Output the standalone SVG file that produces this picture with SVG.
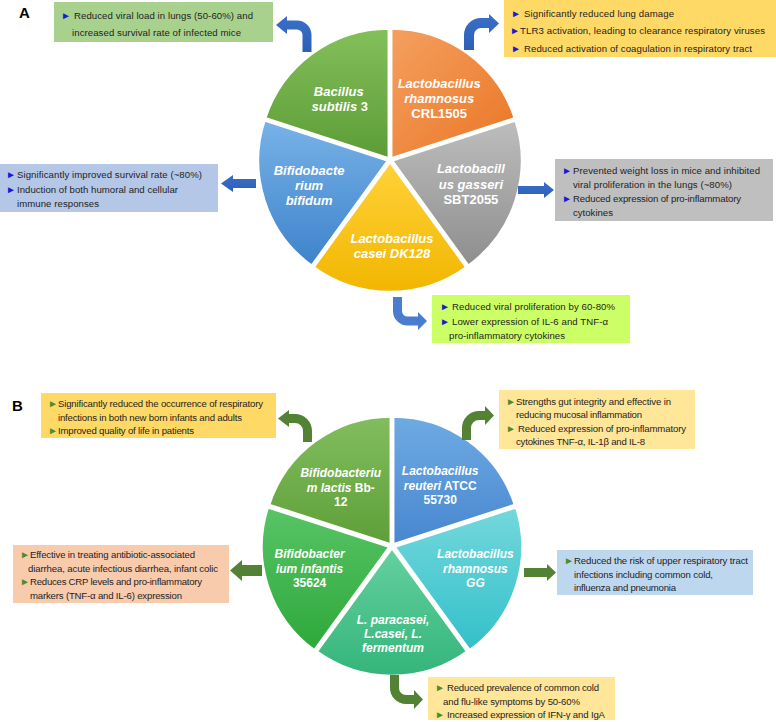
<svg xmlns="http://www.w3.org/2000/svg" width="776" height="722" viewBox="0 0 776 722">
<defs>
<style>
.t{font-family:"Liberation Sans",Arial,sans-serif;font-size:9.6px;fill:#1e1e1e}
.ba{font-family:"Liberation Sans",Arial,sans-serif;fill:#1a1ad6;font-size:10px}
.bb{font-family:"Liberation Sans",Arial,sans-serif;fill:#4f8a2c;font-size:10px}
.lab{font-family:"Liberation Sans",Arial,sans-serif;font-weight:bold;fill:#fff;text-anchor:middle;font-size:13px}
.lb{font-size:12px}
.i{font-style:italic}
.pl{font-family:"Liberation Sans",Arial,sans-serif;font-weight:bold;font-size:15px;fill:#000}
.sl{stroke:#fff;stroke-width:2.5;stroke-linejoin:round}
.arA{fill:url(#gBlueArr)}
.arB{fill:#548235}
</style>
<linearGradient id="gBlueArr" x1="0" y1="0" x2="0" y2="1"><stop offset="0" stop-color="#3b6fc8"/><stop offset="1" stop-color="#2d5fb5"/></linearGradient>
<linearGradient id="gA1" x1="0" y1="0" x2="0" y2="1"><stop offset="0" stop-color="#84bf5a"/><stop offset="1" stop-color="#5c9c36"/></linearGradient>
<linearGradient id="gA2" x1="0" y1="0" x2="1" y2="1"><stop offset="0" stop-color="#f4a060"/><stop offset="1" stop-color="#ea7524"/></linearGradient>
<linearGradient id="gA3" x1="0" y1="0" x2="0" y2="1"><stop offset="0" stop-color="#bdbdbd"/><stop offset="1" stop-color="#8e8e8e"/></linearGradient>
<linearGradient id="gA4" x1="0" y1="0" x2="0" y2="1"><stop offset="0" stop-color="#ffd23a"/><stop offset="1" stop-color="#f1b600"/></linearGradient>
<linearGradient id="gA5" x1="0" y1="0" x2="0" y2="1"><stop offset="0" stop-color="#78b2e8"/><stop offset="1" stop-color="#3e83cb"/></linearGradient>
<linearGradient id="gB1" x1="0" y1="0" x2="0" y2="1"><stop offset="0" stop-color="#82bd5e"/><stop offset="1" stop-color="#5e9f38"/></linearGradient>
<linearGradient id="gB2" x1="0" y1="0" x2="0" y2="1"><stop offset="0" stop-color="#6eabe3"/><stop offset="1" stop-color="#4886cf"/></linearGradient>
<linearGradient id="gB3" x1="0" y1="0" x2="0" y2="1"><stop offset="0" stop-color="#74d8dc"/><stop offset="1" stop-color="#33c0ca"/></linearGradient>
<linearGradient id="gB4" x1="0" y1="0" x2="0" y2="1"><stop offset="0" stop-color="#64d0a0"/><stop offset="1" stop-color="#34b57a"/></linearGradient>
<linearGradient id="gB5" x1="0" y1="0" x2="0" y2="1"><stop offset="0" stop-color="#58c466"/><stop offset="1" stop-color="#2ea83a"/></linearGradient>
</defs>
<rect width="776" height="722" fill="#fff"/>

<text class="pl" x="19" y="18">A</text>
<text class="pl" x="12" y="411">B</text>

<!-- Panel A pie -->
<g id="pieA">
<g id="a-bacillus" transform="translate(-1.2,-1.6)">
<path class="sl" fill="url(#gA1)" d="M390,160 L266.36,119.83 A130,130 0 0 1 390,30 Z"/>
<text class="lab i" x="340" y="98">Bacillus</text>
<text class="lab" x="341" y="113"><tspan class="i">subtilis</tspan> 3</text>
</g>
<g id="a-rhamnosus" transform="translate(1.2,-1.6)">
<path class="sl" fill="url(#gA2)" d="M390,160 L390,30 A130,130 0 0 1 513.64,119.83 Z"/>
<text class="lab i" x="438" y="90">Lactobacillus</text>
<text class="lab i" x="438" y="105">rhamnosus</text>
<text class="lab" x="438" y="120">CRL1505</text>
</g>
<g id="a-gasseri" transform="translate(1.9,0.6)">
<path class="sl" fill="url(#gA3)" d="M390,160 L513.64,119.83 A130,130 0 0 1 466.41,265.17 Z"/>
<text class="lab i" x="469" y="172">Lactobacill</text>
<text class="lab i" x="469" y="188">us gasseri</text>
<text class="lab" x="469" y="203">SBT2055</text>
</g>
<g id="a-casei" transform="translate(0,2)">
<path class="sl" fill="url(#gA4)" d="M390,160 L466.41,265.17 A130,130 0 0 1 313.59,265.17 Z"/>
<text class="lab i" x="392" y="241">Lactobacillus</text>
<text class="lab i" x="392" y="256">casei DK128</text>
</g>
<g id="a-bifidum" transform="translate(-1.9,0.6)">
<path class="sl" fill="url(#gA5)" d="M390,160 L313.59,265.17 A130,130 0 0 1 266.36,119.83 Z"/>
<text class="lab i" x="311" y="174">Bifidobacte</text>
<text class="lab i" x="311" y="189">rium</text>
<text class="lab i" x="311" y="204">bifidum</text>
</g>
</g>

<!-- Panel A boxes -->
<g id="a-box1">
<rect x="54" y="2" width="219" height="40" fill="#a9d18e"/>
<text class="ba" x="61" y="19">►</text>
<text class="t" x="74" y="19" textLength="179" lengthAdjust="spacing">Reduced viral load in lungs (50-60%) and</text>
<text class="t" x="72" y="36" textLength="169" lengthAdjust="spacing">increased survival rate of infected mice</text>
</g>
<g id="a-box2">
<rect x="504" y="0" width="272" height="57" fill="#ffd966"/>
<text class="ba" x="511" y="17">►</text>
<text class="t" x="524" y="17" textLength="150" lengthAdjust="spacing">Significantly reduced lung damage</text>
<text class="ba" x="510" y="34">►</text>
<text class="t" x="520" y="34" textLength="245" lengthAdjust="spacing">TLR3 activation, leading to clearance respiratory viruses</text>
<text class="ba" x="511" y="52">►</text>
<text class="t" x="524" y="52" textLength="228" lengthAdjust="spacing">Reduced activation of coagulation in respiratory tract</text>
</g>
<g id="a-box3">
<rect x="0" y="164" width="218" height="48" fill="#b4c7e7"/>
<text class="ba" x="6" y="178">►</text>
<text class="t" x="17" y="178" textLength="185" lengthAdjust="spacing">Significantly improved survival rate (~80%)</text>
<text class="ba" x="6" y="192.5">►</text>
<text class="t" x="17" y="192.5" textLength="161" lengthAdjust="spacing">Induction of both humoral and cellular</text>
<text class="t" x="17" y="207" textLength="82" lengthAdjust="spacing">immune responses</text>
</g>
<g id="a-box4">
<rect x="555" y="159" width="218" height="62" fill="#bfbfbf"/>
<text class="ba" x="562" y="174">►</text>
<text class="t" x="573" y="174" textLength="187" lengthAdjust="spacing">Prevented weight loss in mice and inhibited</text>
<text class="t" x="573" y="188" textLength="159" lengthAdjust="spacing">viral proliferation in the lungs (~80%)</text>
<text class="ba" x="562" y="202">►</text>
<text class="t" x="573" y="202" textLength="168" lengthAdjust="spacing">Reduced expression of  pro-inflammatory</text>
<text class="t" x="573" y="216">cytokines</text>
</g>
<g id="a-box5">
<rect x="432" y="295" width="198" height="48" fill="#ccff66"/>
<text class="ba" x="440" y="310">►</text>
<text class="t" x="452" y="310" textLength="163" lengthAdjust="spacing">Reduced viral proliferation by 60-80%</text>
<text class="ba" x="440" y="325">►</text>
<text class="t" x="452" y="325" textLength="156" lengthAdjust="spacing">Lower expression of IL-6 and TNF-α</text>
<text class="t" x="449" y="339" textLength="116" lengthAdjust="spacing">pro-inflammatory  cytokines</text>
</g>

<!-- Panel B pie -->
<g id="pieB">
<g id="b-lactis" transform="translate(-1.2,-1.6)">
<path class="sl" fill="url(#gB1)" d="M392,546 L270.27,506.45 A128,128 0 0 1 392,418 Z"/>
<text class="lab lb i" x="342" y="479">Bifidobacteriu</text>
<text class="lab lb" x="342" y="494"><tspan class="i">m lactis</tspan> Bb-</text>
<text class="lab lb" x="342" y="508">12</text>
</g>
<g id="b-reuteri" transform="translate(1.2,-1.6)">
<path class="sl" fill="url(#gB2)" d="M392,546 L392,418 A128,128 0 0 1 513.73,506.45 Z"/>
<text class="lab lb i" x="439" y="477">Lactobacillus</text>
<text class="lab lb" x="439" y="492"><tspan class="i">reuteri</tspan> ATCC</text>
<text class="lab lb" x="439" y="506">55730</text>
</g>
<g id="b-gg" transform="translate(2.4,0.8)">
<path class="sl" fill="url(#gB3)" d="M392,546 L513.73,506.45 A128,128 0 0 1 467.24,649.55 Z"/>
<text class="lab lb i" x="473" y="557">Lactobacillus</text>
<text class="lab lb i" x="473" y="572">rhamnosus</text>
<text class="lab lb i" x="473" y="586">GG</text>
</g>
<g id="b-paracasei" transform="translate(0,2)">
<path class="sl" fill="url(#gB4)" d="M392,546 L467.24,649.55 A128,128 0 0 1 316.76,649.55 Z"/>
<text class="lab lb i" x="393" y="622">L. paracasei,</text>
<text class="lab lb i" x="393" y="636">L.casei,  L.</text>
<text class="lab lb i" x="393" y="650">fermentum</text>
</g>
<g id="b-infantis" transform="translate(-2.4,0.8)">
<path class="sl" fill="url(#gB5)" d="M392,546 L316.76,649.55 A128,128 0 0 1 270.27,506.45 Z"/>
<text class="lab lb i" x="312" y="557">Bifidobacter</text>
<text class="lab lb i" x="312" y="572">ium infantis</text>
<text class="lab lb" x="312" y="586">35624</text>
</g>
</g>

<!-- Panel B boxes -->
<g id="b-box1">
<rect x="41" y="393" width="235" height="45" fill="#ffd966"/>
<text class="bb" x="48" y="407">►</text>
<text class="t" x="58" y="407" textLength="205" lengthAdjust="spacing">Significantly reduced the occurrence of respiratory</text>
<text class="t" x="58" y="421" textLength="184" lengthAdjust="spacing">infections in both new born infants and adults</text>
<text class="bb" x="48" y="434">►</text>
<text class="t" x="58" y="434" textLength="136" lengthAdjust="spacing">Improved quality of life in patients</text>
</g>
<g id="b-box2">
<rect x="499" y="390" width="196" height="59" fill="#ffe699"/>
<text class="bb" x="506" y="405">►</text>
<text class="t" x="516" y="405" textLength="155" lengthAdjust="spacing">Strengths gut integrity and effective in</text>
<text class="t" x="516" y="418" textLength="126" lengthAdjust="spacing">reducing mucosal inflammation</text>
<text class="bb" x="506" y="432">►</text>
<text class="t" x="518" y="432" textLength="168" lengthAdjust="spacing">Reduced expression of  pro-inflammatory</text>
<text class="t" x="516" y="445" textLength="129" lengthAdjust="spacing">cytokines TNF-α, IL-1β and IL-8</text>
</g>
<g id="b-box3">
<rect x="13" y="545" width="216" height="58" fill="#f8cbad"/>
<text class="bb" x="20" y="558">►</text>
<text class="t" x="30" y="558" textLength="165" lengthAdjust="spacing">Effective in treating antibiotic-associated</text>
<text class="t" x="28" y="572" textLength="190" lengthAdjust="spacing">diarrhea, acute infectious diarrhea, infant colic</text>
<text class="bb" x="20" y="585">►</text>
<text class="t" x="30" y="585" textLength="172" lengthAdjust="spacing">Reduces CRP levels and pro-inflammatory</text>
<text class="t" x="30" y="599" textLength="152" lengthAdjust="spacing">markers (TNF-α and IL-6) expression</text>
</g>
<g id="b-box4">
<rect x="557" y="550" width="196" height="45" fill="#bdd7ee"/>
<text class="bb" x="564" y="564">►</text>
<text class="t" x="574" y="564" textLength="174" lengthAdjust="spacing">Reduced the risk of upper respiratory tract</text>
<text class="t" x="574" y="578" textLength="139" lengthAdjust="spacing">infections including common cold,</text>
<text class="t" x="574" y="591" textLength="102" lengthAdjust="spacing">influenza  and pneumonia</text>
</g>
<g id="b-box5">
<rect x="428" y="677" width="187" height="43" fill="#ffe699"/>
<text class="bb" x="435" y="691">►</text>
<text class="t" x="447" y="691" textLength="152" lengthAdjust="spacing">Reduced prevalence of common cold</text>
<text class="t" x="443" y="705" textLength="137" lengthAdjust="spacing">and flu-like symptoms by 50-60%</text>
<text class="bb" x="435" y="718">►</text>
<text class="t" x="447" y="718" textLength="158" lengthAdjust="spacing">Increased expression of IFN-γ and IgA</text>
</g>

<!-- Connectors -->
<g id="connectors">
<path class="arA" d="M311.5,52 L311.5,35 A14.5,14.5 0 0 0 297,20.5 L287,20.5 L287,16 L276,25 L287,34 L287,29.5 L297,29.5 A5.5,5.5 0 0 1 302.5,35 L302.5,52 Z"/>
<path class="arA" d="M464,50 L464,35 A17,17 0 0 1 481,18 L489,18 L489,14 L499,23.5 L489,33 L489,28 L481,28 A7,7 0 0 0 474,35 L474,50 Z"/>
<path class="arA" d="M256,179 L233,179 L233,175 L221,183.5 L233,192 L233,188 L256,188 Z"/>
<path class="arA" d="M518,186 L544,186 L544,182 L554,190 L544,198 L544,194 L518,194 Z"/>
<path fill="#4a7ccf" d="M393,297 L393,311 A14.5,14.5 0 0 0 407.5,325.5 L418,325.5 L418,330 L427,321 L418,312 L418,316.5 L407.5,316.5 A5.5,5.5 0 0 1 402,311 L402,297 Z"/>
<path class="arB" d="M312,442 L312,431 A17,17 0 0 0 295,414 L289,414 L289,410 L278,418.5 L289,427 L289,423 L295,423 A8,8 0 0 1 303,431 L303,442 Z"/>
<path class="arB" d="M462,440 L462,428 A17,17 0 0 1 479,411 L485,411 L485,406 L494,415.5 L485,425 L485,420 L479,420 A8,8 0 0 0 471,428 L471,440 Z"/>
<path class="arB" d="M262,565 L242,565 L242,560 L230,570.5 L242,581 L242,576 L262,576 Z"/>
<path class="arB" d="M524,568 L547,568 L547,564 L556,572.5 L547,581 L547,577 L524,577 Z"/>
<path class="arB" d="M390,675 L390,688 A16,16 0 0 0 406,704 L414,704 L414,709 L423,699.5 L414,690 L414,695 L406,695 A7,7 0 0 1 399,688 L399,675 Z"/>
</g>
</svg>
